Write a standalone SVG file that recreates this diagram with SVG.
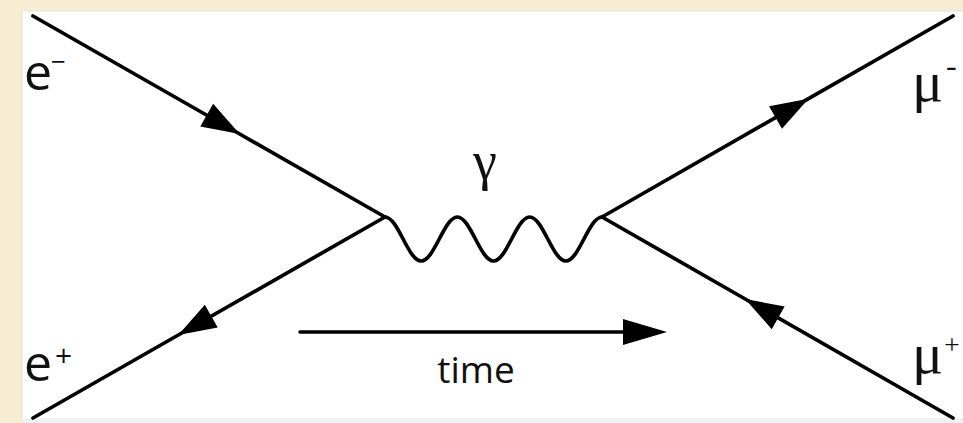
<svg xmlns="http://www.w3.org/2000/svg" width="963" height="423" viewBox="0 0 963 423">
  <style>
    .fermion { fill: none; stroke: #000; stroke-width: 3.7; stroke-linecap: round; marker-mid: url(#arr); }
    .photon { fill: none; stroke: #000; stroke-width: 3.7; }
    .sans { font-family: "Open Sans", "Liberation Sans", sans-serif; fill: #111; }
    .serif { font-family: "Liberation Serif", "DejaVu Serif", serif; fill: #111; }
  </style>
  <defs>
    <marker id="arr" markerUnits="userSpaceOnUse" markerWidth="40" markerHeight="28" refX="38" refY="13" orient="auto" viewBox="0 0 40 28" overflow="visible">
      <path d="M0,0 L38,13 L0,26 Z" fill="#000"/>
    </marker>
  </defs>

  <rect x="0" y="0" width="963" height="423" fill="#f6edd2"/>
  <rect x="22" y="11" width="941" height="407" fill="#ffffff"/>
  <rect x="22" y="418" width="941" height="5" fill="#eef2f1"/>
  <path d="M22,418 L22,11 L963,11" fill="none" stroke="#e2e2de" stroke-width="1"/>

  <g id="connectors">
    <path id="e-minus-line" class="fermion" d="M33,16 L239.7,134 L385,217"/>
    <path id="e-plus-line" class="fermion" d="M385,217 L178.3,335 L33,418"/>
    <path id="mu-minus-line" class="fermion" d="M602,217 L808.5,98.7 L953,16"/>
    <path id="mu-plus-line" class="fermion" d="M953,418 L745.2,299 L602,217"/>
    <path id="photon" class="photon" d="M385,217 c13.16,0 23.01,44 36.17,44 c13.16,0 23.01,-44 36.17,-44 c13.16,0 23.01,44 36.17,44 c13.16,0 23.01,-44 36.17,-44 c13.16,0 23.01,44 36.17,44 c13.16,0 23.01,-44 36.17,-44"/>
    <g id="time-arrow">
      <line x1="300" y1="332" x2="625" y2="332" stroke="#000" stroke-width="3.5" stroke-linecap="round"/>
      <path d="M623,319 L667,332 L623,345 Z" fill="#000"/>
    </g>
  </g>

  <g id="label-e-minus">
    <text class="sans" x="24" y="90" font-size="50">e</text>
    <text class="sans" x="51" y="71" font-size="26">−</text>
  </g>
  <g id="label-e-plus">
    <text class="sans" x="24" y="381" font-size="50">e</text>
    <text class="sans" x="55" y="366" font-size="30">+</text>
  </g>
  <g id="label-mu-minus">
    <text class="serif" x="912" y="101" font-size="58">μ</text>
    <text class="serif" x="946" y="76" font-size="32">-</text>
  </g>
  <g id="label-mu-plus">
    <text class="serif" x="912" y="373" font-size="58">μ</text>
    <text class="serif" x="944" y="354" font-size="28">+</text>
  </g>
  <g id="label-gamma">
    <text class="serif" x="485" y="179" font-size="54" text-anchor="middle">γ</text>
  </g>
  <g id="label-time">
    <text class="sans" x="476" y="383" font-size="37" text-anchor="middle">time</text>
  </g>
</svg>
